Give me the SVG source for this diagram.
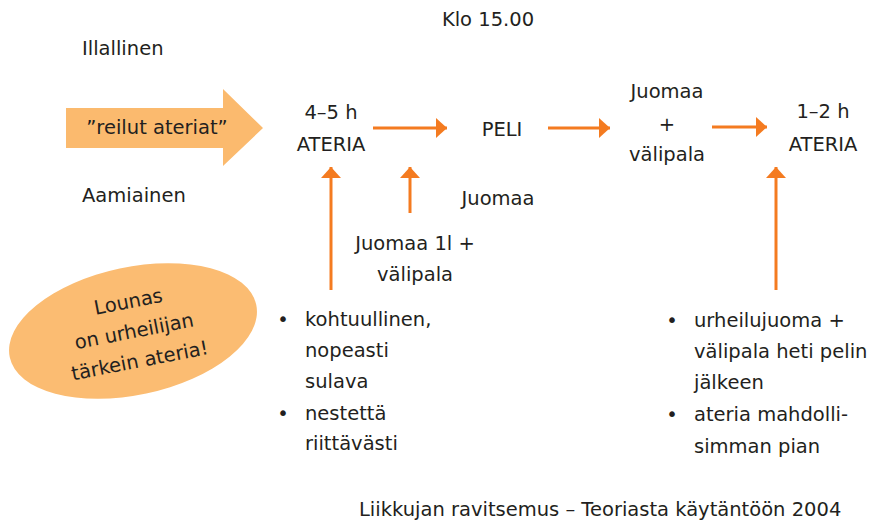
<svg xmlns="http://www.w3.org/2000/svg" width="872" height="522" viewBox="0 0 872 522">
<style>
text{font-family:"DejaVu Sans","Liberation Sans",sans-serif;font-size:19.5px;fill:#231f20}
.m{text-anchor:middle}
.c{stroke:#f47b20;stroke-width:3;fill:none}
.h{fill:#f47b20}
</style>
<defs>
<marker id="ah" viewBox="0 0 11 20" refX="11" refY="10" markerWidth="11" markerHeight="20" markerUnits="userSpaceOnUse" orient="auto">
<path class="h" d="M0,0 L11,10 L0,20 Z"/>
</marker>
</defs>
<rect width="872" height="522" fill="#ffffff"/>
<g id="klo"><text class="m" x="488" y="26">Klo 15.00</text></g>
<g id="illallinen"><text x="82" y="55">Illallinen</text></g>
<g id="aamiainen"><text x="82" y="202">Aamiainen</text></g>
<g id="reilut">
<polygon points="66,108 223,108 223,89 263,128 223,166 223,148 66,148" fill="#fbba6e"/>
<text class="m" x="157" y="134">”reilut ateriat”</text>
</g>
<g id="ateria1"><text class="m" x="331" y="119">4–5 h</text><text class="m" x="331" y="151">ATERIA</text></g>
<g id="peli"><text class="m" x="502" y="136">PELI</text></g>
<g id="juomaa-peli"><text class="m" x="498" y="205">Juomaa</text></g>
<g id="juomaa-valipala"><text class="m" x="667" y="98">Juomaa</text><text class="m" x="667" y="131">+</text><text class="m" x="667" y="161">välipala</text></g>
<g id="ateria2"><text class="m" x="823" y="118">1–2 h</text><text class="m" x="823" y="151">ATERIA</text></g>
<g id="juomaa1l"><text class="m" x="415" y="250">Juomaa 1l +</text><text class="m" x="415" y="281">välipala</text></g>
<g id="lounas">
<ellipse cx="133" cy="331" rx="126" ry="64" transform="rotate(-12 133 331)" fill="#fbbc72"/>
<g transform="rotate(-11 133 331)">
<text class="m" x="134" y="308">Lounas</text>
<text class="m" x="134" y="338">on urheilijan</text>
<text class="m" x="134" y="368">tärkein ateria!</text>
</g>
</g>
<g id="lista1">
<text class="m" x="283" y="326">•</text>
<text x="305" y="326">kohtuullinen,</text>
<text x="305" y="357">nopeasti</text>
<text x="305" y="388">sulava</text>
<text class="m" x="283" y="420">•</text>
<text x="305" y="420">nestettä</text>
<text x="305" y="450">riittävästi</text>
</g>
<g id="lista2">
<text class="m" x="672" y="327">•</text>
<text x="694" y="327">urheilujuoma +</text>
<text x="694" y="358">välipala heti pelin</text>
<text x="694" y="389">jälkeen</text>
<text class="m" x="672" y="421">•</text>
<text x="694" y="421">ateria mahdolli-</text>
<text x="694" y="453">simman pian</text>
</g>
<g id="lahde"><text x="359" y="516">Liikkujan ravitsemus – Teoriasta käytäntöön 2004</text></g>
<g id="connectors">
<line class="c" x1="373" y1="128" x2="447" y2="128" marker-end="url(#ah)"/>
<line class="c" x1="548" y1="128" x2="610" y2="128" marker-end="url(#ah)"/>
<line class="c" x1="712" y1="127" x2="767" y2="127" marker-end="url(#ah)"/>
<line class="c" x1="331" y1="290" x2="331" y2="167" marker-end="url(#ah)"/>
<line class="c" x1="410" y1="213" x2="410" y2="167" marker-end="url(#ah)"/>
<line class="c" x1="776" y1="290" x2="776" y2="167" marker-end="url(#ah)"/>
</g>
</svg>
